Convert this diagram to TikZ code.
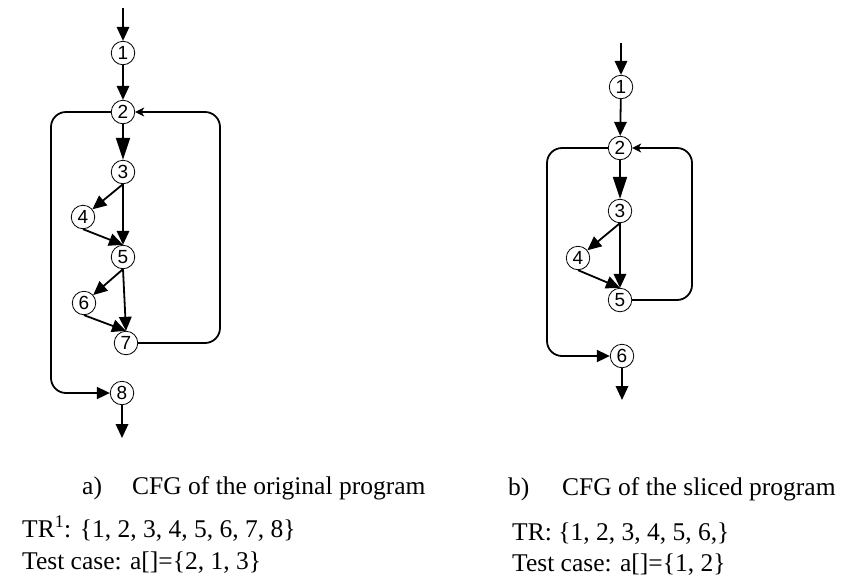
\documentclass[tikz,border=0pt]{standalone}
\usepackage{fontspec}
\setmainfont{Liberation Serif}
\newfontfamily\arialf{Liberation Sans}
\usetikzlibrary{arrows.meta}
\begin{document}
\begin{tikzpicture}[x=1pt,y=-1pt,
  vtx/.style={circle,draw,line width=0.8pt,minimum size=23.5pt,inner sep=0pt,font=\arialf\fontsize{19}{19}\selectfont},
  edge/.style={line width=1.8pt,-{Triangle[length=14pt,width=12.5pt]}},
  bigedge/.style={line width=1.8pt,-{Triangle[length=22pt,width=14pt]}},
  backedge/.style={line width=1.8pt,rounded corners=15pt,-{Stealth[length=9pt,width=9pt,inset=2.5pt]}},
  exitedge/.style={line width=1.8pt,rounded corners=15pt,-{Triangle[length=13pt,width=12pt]}},
  lbl/.style={anchor=base west,inner sep=0pt,font=\fontsize{25.5}{30}\selectfont}]
\useasboundingbox (0,0) rectangle (850,584);
% ---------- left graph ----------
\coordinate (a0) at (123,8);
\node[vtx] (a1) at (123,53) {1};
\node[vtx] (a2) at (123,112) {2};
\node[vtx] (a3) at (123,172) {3};
\node[vtx] (a4) at (83,217) {4};
\node[vtx] (a5) at (123,257) {5};
\node[vtx] (a6) at (84,303) {6};
\node[vtx] (a7) at (126,343) {7};
\node[vtx] (a8) at (122,393) {8};
\coordinate (a9) at (122,438);
\draw[edge] (a0) -- (a1);
\draw[edge] (a1) -- (a2);
\draw[bigedge] (a2) -- (a3);
\draw[edge] (a3.south) -- (a4);
\draw[edge] (a3.south) -- (a5.north);
\draw[edge] (a4.south) -- (a5.north);
\draw[edge] (a5.south) -- (a6);
\draw[edge] (a5.south) -- (a7.north);
\draw[edge] (a6.south) -- (a7.north);
\draw[backedge] (a7.east) -- (220,343) -- (220,112) -- (a2.east);
\draw[exitedge] (a2.west) -- (51,112) -- (51,393) -- (a8.west);
\draw[edge] (a8) -- (a9);
% ---------- right graph ----------
\coordinate (b0) at (621,43);
\node[vtx] (b1) at (621,87) {1};
\node[vtx] (b2) at (620,148) {2};
\node[vtx] (b3) at (620,211) {3};
\node[vtx] (b4) at (578,258) {4};
\node[vtx] (b5) at (620,300) {5};
\node[vtx] (b6) at (622,356) {6};
\coordinate (b9) at (622,400);
\draw[edge] (b0) -- (b1);
\draw[edge] (b1) -- (b2);
\draw[bigedge] (b2) -- (b3);
\draw[edge] (b3.south) -- (b4);
\draw[edge] (b3.south) -- (b5.north);
\draw[edge] (b4.south) -- (b5.north);
\draw[backedge] (b5.east) -- (692,300) -- (692,148) -- (b2.east);
\draw[exitedge] (b2.west) -- (547,148) -- (547,356) -- (b6.west);
\draw[edge] (b6) -- (b9);
% ---------- captions ----------
\node[lbl] (ca) at (82,494) {a)};
\node[lbl] (cat) at (132,494) {CFG of the original program};
\node[lbl] (tra) at (22,537) {TR\textsuperscript{1}: \{1, 2, 3, 4, 5, 6, 7, 8\}};
\node[lbl] (tca) at (22,569) {Test case: a[]=\{2, 1, 3\}};
\node[lbl] (cb) at (508,495) {b)};
\node[lbl] (cbt) at (562,495) {CFG of the sliced program};
\node[lbl] (trb) at (512,540) {TR: \{1, 2, 3, 4, 5, 6,\}};
\node[lbl] (tcb) at (512,571) {Test case: a[]=\{1, 2\}};
\end{tikzpicture}
\end{document}
